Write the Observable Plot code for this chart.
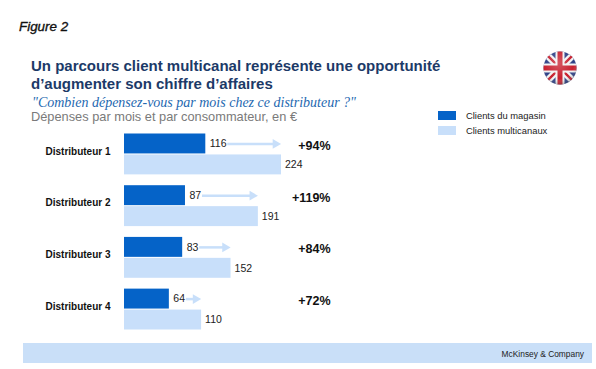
<!DOCTYPE html>
<html lang="fr">
<head>
<meta charset="utf-8">
<script src="https://cdn.jsdelivr.net/npm/d3@7"></script>
<script src="https://cdn.jsdelivr.net/npm/@observablehq/plot@0.6"></script>
<style>
html,body{margin:0;padding:0;background:#fff;width:596px;height:369px;overflow:hidden;font-family:"Liberation Sans",Arial,sans-serif}
.t{position:absolute;white-space:nowrap;line-height:1}
#chart{position:absolute;left:0;top:125px}
#chart svg{display:block;background:transparent}
.sw{position:absolute;left:438px;width:18px;height:9px}
#band{position:absolute;left:23px;top:343px;width:569px;height:20px;background:#c9dff8}
</style>
</head>
<body>
<div class="t" style="left:19px;top:20px;font-size:13.4px;font-style:italic;-webkit-text-stroke:.35px #111;color:#111">Figure 2</div>
<div class="t" style="left:31px;top:58px;font-size:15px;font-weight:bold;color:#1c3a68">Un parcours client multicanal représente une opportunité</div>
<div class="t" style="left:31px;top:76px;font-size:15px;font-weight:bold;color:#1c3a68">d’augmenter son chiffre d’affaires</div>
<div class="t" style="left:32px;top:96px;font-family:'Liberation Serif',serif;font-style:italic;font-size:14px;color:#2468b0">"Combien dépensez-vous par mois chez ce distributeur ?"</div>
<div class="t" style="left:31px;top:111px;font-size:12.8px;color:#7a7a7a">Dépenses par mois et par consommateur, en €</div>
<div id="chart"></div>
<div class="sw" style="top:111px;background:#0563c8"></div>
<div class="t" style="left:466px;top:111px;font-size:9.4px;color:#222">Clients du magasin</div>
<div class="sw" style="top:126px;background:#c8dffa"></div>
<div class="t" style="left:466px;top:126px;font-size:9.4px;color:#222">Clients multicanaux</div>
<div id="band"></div>
<div class="t" style="right:12px;top:350px;font-size:8.4px;color:#222">McKinsey &amp; Company</div>
<svg style="position:absolute;left:543px;top:51px" width="34" height="34" viewBox="0 0 34 34">
<defs>
<clipPath id="c"><circle cx="17" cy="17" r="16.5"/></clipPath>
<radialGradient id="g" cx="45%" cy="35%" r="70%"><stop offset="0" stop-color="#fff" stop-opacity=".25"/><stop offset=".65" stop-color="#fff" stop-opacity="0"/><stop offset="1" stop-color="#000" stop-opacity=".45"/></radialGradient>
</defs>
<g clip-path="url(#c)">
<rect width="34" height="34" fill="#2c3f86"/>
<path d="M0 0L34 34M34 0L0 34" stroke="#f2f2f2" stroke-width="7"/>
<path d="M0 0L34 34M34 0L0 34" stroke="#c8202f" stroke-width="2.4"/>
<path d="M17 0V34M0 17H34" stroke="#f2f2f2" stroke-width="9"/>
<path d="M17 0V34M0 17H34" stroke="#c8202f" stroke-width="5"/>
<circle cx="17" cy="17" r="17" fill="url(#g)"/>
</g>
</svg>
<script>
const distributors = ["Distributeur 1", "Distributeur 2", "Distributeur 3", "Distributeur 4"];
const seriesNames = ["Clients du magasin", "Clients multicanaux"];
const storeValues = [116, 87, 83, 64];
const multiValues = [224, 191, 152, 110];
const upliftLabels = ["+94%", "+119%", "+84%", "+72%"];
const seriesColors = ["#0563c8", "#c8dffa"];

const rows = distributors.map((name, i) => ({
  name, store: storeValues[i], multi: multiValues[i], uplift: upliftLabels[i]
}));
const bars = rows.flatMap(r => [
  {name: r.name, series: seriesNames[0], value: r.store},
  {name: r.name, series: seriesNames[1], value: r.multi}
]);
const storeRow = () => seriesNames[0];
const wide = rows.filter(r => r.store >= 100);
const narrow = rows.filter(r => r.store < 100);
const shaft = (data, inset) => Plot.ruleY(data, {
  x1: "store", x2: "multi", y: storeRow, fy: "name",
  stroke: seriesColors[1], strokeWidth: 2.5, insetLeft: inset, insetRight: 7
});

const chart = Plot.plot({
  width: 596, height: 210,
  marginLeft: 124, marginRight: 315, marginTop: 8, marginBottom: 5,
  style: {fontFamily: "'Liberation Sans', Arial, sans-serif", background: "transparent"},
  x: {domain: [0, 224], axis: null},
  y: {domain: seriesNames, padding: 0, round: false, axis: null},
  fy: {domain: distributors, paddingInner: 0.19, paddingOuter: 0, round: false, label: null, axis: null},
  color: {domain: seriesNames, range: seriesColors},
  marks: [
    Plot.axisFy({anchor: "left", label: null, tickSize: 0, tickPadding: 14, fontSize: 10, fontWeight: "bold", dy: -3, color: "#111"}),
    Plot.barX(bars, {x: "value", y: "series", fy: "name", fill: "series", insetBottom: 0.5, insetTop: 0.5}),
    Plot.ruleX(rows, {x: "multi", y: storeRow, fy: "name", stroke: "#a9b4c0", strokeWidth: 1, strokeDasharray: "1,1"}),
    shaft(wide, 22),
    shaft(narrow, 17),
    Plot.dot(rows, {x: "multi", y: storeRow, fy: "name", symbol: "triangle", rotate: 90, r: 3.6, dx: -6, fill: seriesColors[1]}),
    Plot.text(rows, {x: "store", y: storeRow, fy: "name", text: d => String(d.store), textAnchor: "start", dx: 4, fontSize: 10.5, fill: "#222"}),
    Plot.text(rows, {x: "multi", y: () => seriesNames[1], fy: "name", text: d => String(d.multi), textAnchor: "start", dx: 3.5, fontSize: 10.5, fill: "#222"}),
    Plot.text(rows, {frameAnchor: "right", dx: 49, y: storeRow, fy: "name", text: "uplift", textAnchor: "end", dy: 2, fontSize: 12.5, fontWeight: "bold", fill: "#111"})
  ]
});
document.getElementById("chart").appendChild(chart);
</script>
</body>
</html>
